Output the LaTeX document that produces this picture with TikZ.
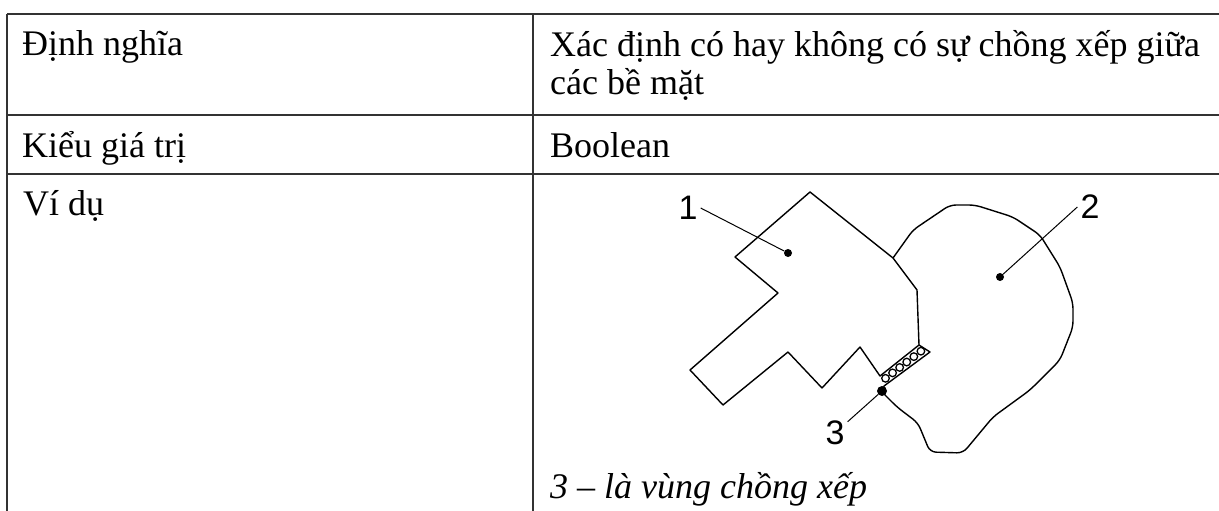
\documentclass[tikz,border=0pt]{standalone}
\usepackage{fontspec}
\setmainfont{Liberation Serif}
\newfontfamily\labelfont{Liberation Sans}
\usetikzlibrary{positioning}

\begin{document}
\begin{tikzpicture}[x=1pt, y=-1pt,
		tableline/.style={draw=black!80, line width=1.8pt},
		cell/.style={anchor=base west, inner sep=0pt, font=\fontsize{36}{39}\selectfont},
		outline/.style={black, line width=1.4pt, line join=round},
		numlabel/.style={font=\labelfont\fontsize{34}{34}\selectfont, inner sep=3pt},
		spot/.style={circle, fill=black, inner sep=0pt, minimum size=8pt}]
			\useasboundingbox (0,0) rectangle (1219,511);
			
			% Table grid
			\draw[tableline] (7,14) -- (1219,14);
			\draw[tableline] (7,115) -- (1219,115);
			\draw[tableline] (7,174) -- (1219,174);
			\draw[tableline] (7,14) -- (7,511);
			\draw[tableline] (533,14) -- (533,511);
			
			% Left column
			\node[cell] (defname) at (22,56) {Định nghĩa};
			\node[cell] (typename) at (22,157) {Kiểu giá trị};
			\node[cell] (examplename) at (23,215) {Ví dụ};
			
			% Right column (base is the last line)
			\node[cell, align=left] (defvalue) at (550,95) {Xác định có hay không có sự chồng xếp giữa\\các bề mặt};
			\node[cell] (typevalue) at (550,157) {Boolean};
			\node[cell, font=\fontsize{36}{39}\selectfont\itshape] (caption) at (550,498) {3 -- là vùng chồng xếp};
			
			% Surface 1
			\draw[outline] (810,192) -- (893,258) -- (917,290) -- (919,345) -- (880,376) -- (860,347)
				-- (822,388) -- (788,352) -- (723,405) -- (690,370) -- (778,293) -- (735,257) -- cycle;
			
			% Surface 2
			\draw[outline, rounded corners=6pt] (893,258) -- (913,230) -- (950,205) -- (975,205) -- (1013,217)
				-- (1040,235) -- (1060,267) -- (1073,303) -- (1073,327) -- (1060,360) -- (1030,390)
				-- (993,417) -- (963,453) -- (930,452) -- (918,423) -- (897,407) -- (883,393);
			\draw[outline] (883,393) -- (884,386) -- (930,352) -- (919,345);
			
			% Overlap strip
			\foreach \k in {0,...,5}
				\draw[line width=1.3pt] ({885.5+7.08*\k},{378.3-5.42*\k}) circle (3.8);
			
			% Labels
			\node[spot] (dot1) at (788,253) {};
			\node[spot] (dot2) at (1000,277) {};
			\node[spot, minimum size=10pt] (dot3) at (882,391) {};
			\node[numlabel] (lab1) at (688,208) {1};
			\node[numlabel] (lab2) at (1090,207) {2};
			\node[numlabel] (lab3) at (835,433) {3};
			\draw[line width=1pt] (lab1.east) -- (dot1);
			\draw[line width=1pt] (lab2.west) -- (dot2);
			\draw[line width=1pt] (lab3) -- (dot3);
		\end{tikzpicture}
\end{document}
